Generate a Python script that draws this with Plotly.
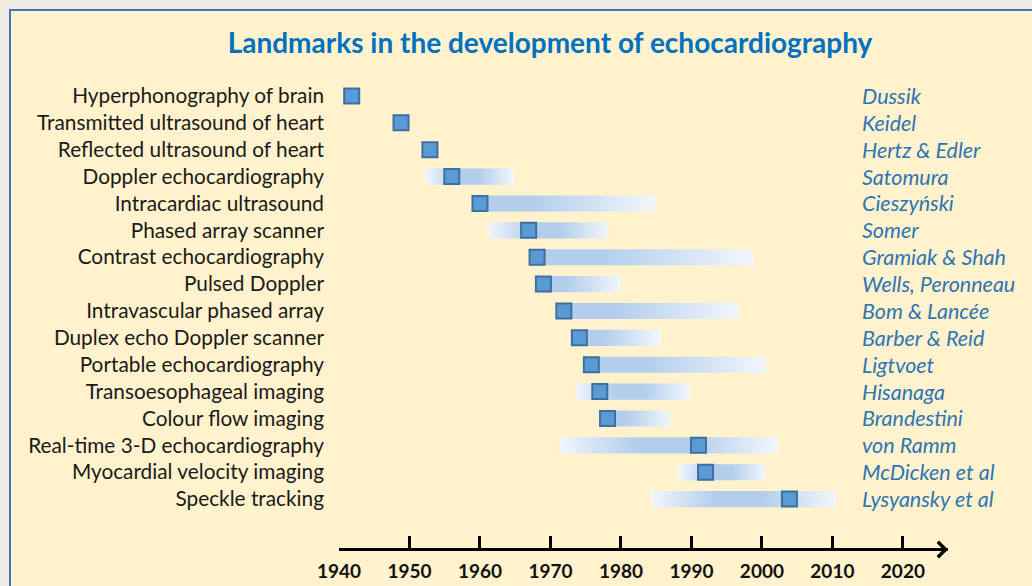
import plotly.graph_objects as go

landmarks = [
    "Hyperphonography of brain", "Transmitted ultrasound of heart", "Reflected ultrasound of heart",
    "Doppler echocardiography", "Intracardiac ultrasound", "Phased array scanner",
    "Contrast echocardiography", "Pulsed Doppler", "Intravascular phased array",
    "Duplex echo Doppler scanner", "Portable echocardiography", "Transoesophageal imaging",
    "Colour flow imaging", "Real-time 3-D echocardiography", "Myocardial velocity imaging",
    "Speckle tracking",
]
authors = [
    "Dussik", "Keidel", "Hertz & Edler", "Satomura", "Cieszyński", "Somer",
    "Gramiak & Shah", "Wells, Peronneau", "Bom & Lancée", "Barber & Reid", "Ligtvoet",
    "Hisanaga", "Brandestini", "von Ramm", "McDicken et al", "Lysyansky et al",
]
year = [1941.8, 1948.8, 1952.9, 1956.0, 1960.0, 1966.9, 1968.1, 1969.0,
        1971.9, 1974.1, 1975.8, 1977.0, 1978.1, 1991.0, 1992.0, 2003.9]
# development period bars (None = no bar)
span_start = [None, None, None, 1952.3, 1960.0, 1961.2, 1968.0, 1969.0,
              1972.0, 1974.0, 1976.0, 1973.6, 1978.0, 1971.3, 1988.2, 1984.3]
span_end = [None, None, None, 1964.8, 1984.9, 1978.2, 1998.8, 1979.9,
            1996.7, 1985.6, 2000.6, 1989.7, 1987.0, 2002.2, 2000.5, 2010.5]
decades = [1940, 1950, 1960, 1970, 1980, 1990, 2000, 2010, 2020]

PALE = "rgb(242,246,252)"
SAT = "rgb(178,206,236)"
FONT = "Lato"

fig = go.Figure()

# gradient bars
for i, (s, e, y) in enumerate(zip(span_start, span_end, year)):
    if s is None:
        continue
    if s >= y - 0.5:
        cs = [[0, SAT], [0.3, SAT], [1, PALE]]
    else:
        cs = [[0, PALE], [0.35, SAT], [0.6, SAT], [1, PALE]]
    h = 0.3
    fig.add_trace(go.Scatter(
        x=[s, e, e, s, s], y=[i - h, i - h, i + h, i + h, i - h],
        mode="lines", line=dict(width=0), fill="toself",
        fillgradient=dict(type="horizontal", colorscale=cs),
        hoverinfo="skip", showlegend=False))

# markers
fig.add_trace(go.Scatter(
    x=year, y=list(range(len(year))), mode="markers",
    marker=dict(symbol="square", size=15, color="#5b9bd5",
                line=dict(color="#3f6fa0", width=2)),
    text=landmarks, showlegend=False))

# authors on the right
for i, a in enumerate(authors):
    fig.add_annotation(x=(860 - 339) / 609, xref="paper", y=i, yref="y",
                       text=a, showarrow=False, xanchor="left",
                       font=dict(family=FONT, size=21.5, color="#2e75b6", style="italic"))

# arrow head on timeline
fig.add_annotation(x=2026.4, y=0, xref="x", yref="paper", text="", showarrow=True,
                   ax=-40, ay=0, axref="pixel", ayref="pixel", yshift=-1.5,
                   arrowhead=4, arrowwidth=3, arrowsize=1, arrowcolor="black")

# cream panel with blue border
fig.add_shape(type="rect", xref="paper", yref="paper", layer="below",
              x0=(10 - 339) / 609, x1=(1045 - 339) / 609,
              y0=(548 - 600) / 473, y1=(548 - 10) / 473,
              fillcolor="#fff2cc", line=dict(color="#4472c4", width=2))

fig.update_layout(
    width=1032, height=586,
    margin=dict(l=339, r=84, t=75, b=38),
    paper_bgcolor="#efede3", plot_bgcolor="rgba(0,0,0,0)",
    title=dict(text="<b>Landmarks in the development of echocardiography</b>",
               x=550 / 1032, xanchor="center", y=1 - 43 / 586, yanchor="middle",
               font=dict(family=FONT, size=28, color="#0070c0")),
    xaxis=dict(range=[1940, 2026.4], tickvals=decades, ticks="inside", ticklen=12,
               tickwidth=2.5, tickcolor="black", showline=True, linewidth=3,
               linecolor="black", showgrid=False, zeroline=False, automargin=False,
               tickfont=dict(family=FONT, size=19, color="#111111", weight="bold"),
               ticklabelstandoff=4),
    yaxis=dict(range=[16.82, -0.78], tickvals=list(range(len(landmarks))),
               ticktext=landmarks, showgrid=False, zeroline=False, showline=False,
               ticks="", ticklabelstandoff=14, automargin=False,
               tickfont=dict(family=FONT, size=20.8, color="#1a1a1a")),
)

fig.write_html("out.html", config={"displayModeBar": False},
               post_script="document.body.style.margin='0';")
